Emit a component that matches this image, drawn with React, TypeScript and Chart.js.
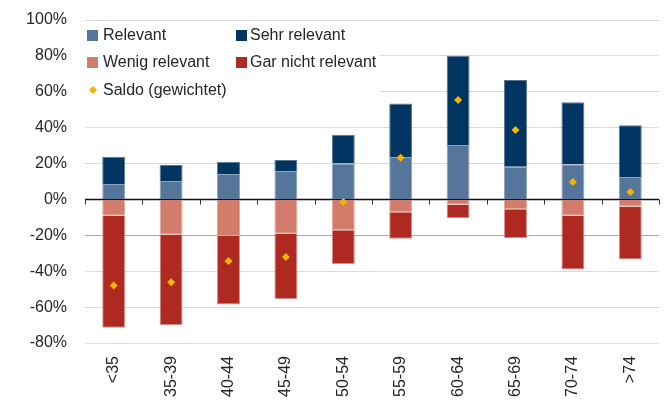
import React, { useEffect, useRef } from "react";
import { Chart, registerables } from "chart.js";

Chart.register(...registerables);

const categories = ["<35", "35-39", "40-44", "45-49", "50-54", "55-59", "60-64", "65-69", "70-74", ">74"];
const relevant = [8.6, 10.3, 14.2, 15.8, 20.1, 23.6, 30.3, 18.2, 19.6, 12.5];
const sehrRelevant = [15.2, 8.9, 6.8, 6.2, 16.0, 29.8, 49.8, 48.4, 34.5, 28.8];
const wenigRelevant = [-9.1, -19.7, -20.4, -19.1, -17.1, -7.2, -2.9, -5.5, -9.1, -4.1];
const garNichtRelevant = [-62.4, -50.3, -38.1, -36.4, -18.9, -14.7, -7.6, -16.0, -29.9, -29.3];
const saldo = [-47.9, -46.2, -34.3, -32.1, -1.4, 23.3, 55.4, 38.7, 9.7, 4.1];
const yTicks = [100, 80, 60, 40, 20, 0, -20, -40, -60, -80];

const FONT = '"Liberation Sans", Arial, Helvetica, sans-serif';
const TEXT = "#262626";

const C_REL = "#56759b";
const C_SEHR = "#003562";
const C_WENIG = "#d27c6b";
const C_GAR = "#ae2a21";
const C_SALDO = "#f5b400";

const legendItems = [
  { label: "Relevant", color: C_REL, type: "box", col: 0, row: 0 },
  { label: "Sehr relevant", color: C_SEHR, type: "box", col: 1, row: 0 },
  { label: "Wenig relevant", color: C_WENIG, type: "box", col: 0, row: 1 },
  { label: "Gar nicht relevant", color: C_GAR, type: "box", col: 1, row: 1 },
  { label: "Saldo (gewichtet)", color: C_SALDO, type: "diamond", col: 0, row: 2 },
];

const customPlugin = {
  id: "custom",
  beforeDatasetsDraw(chart: any) {
    const ctx = chart.ctx;
    const area = chart.chartArea;
    const y = chart.scales.y;
    ctx.save();
    // zero line
    const y0 = Math.round(y.getPixelForValue(0)) + 0.5;
    ctx.strokeStyle = "#111";
    ctx.lineWidth = 1.3;
    ctx.beginPath();
    ctx.moveTo(area.left, y0);
    ctx.lineTo(area.right, y0);
    ctx.stroke();
    // tick marks at category boundaries
    const n = categories.length;
    const w = (area.right - area.left) / n;
    ctx.lineWidth = 1;
    ctx.strokeStyle = "#333";
    for (let i = 0; i <= n; i++) {
      const px = Math.round(area.left + i * w) + 0.5;
      ctx.beginPath();
      ctx.moveTo(px, y0);
      ctx.lineTo(px, y0 + 5);
      ctx.stroke();
    }
    // legend background
    ctx.fillStyle = "#ffffff";
    ctx.fillRect(area.left, 24, 295, 80);
    // legend items
    const colX = [area.left + 2, area.left + 151];
    const rowY = [35, 62, 90];
    ctx.font = `16px ${FONT}`;
    ctx.textBaseline = "middle";
    ctx.textAlign = "left";
    for (const it of legendItems) {
      const lx = colX[it.col];
      const ly = rowY[it.row];
      ctx.fillStyle = it.color;
      if (it.type === "box") {
        ctx.fillRect(lx, ly - 5, 11, 11);
      } else {
        const cx = lx + 6;
        ctx.beginPath();
        ctx.moveTo(cx, ly - 4);
        ctx.lineTo(cx + 4, ly);
        ctx.lineTo(cx, ly + 4);
        ctx.lineTo(cx - 4, ly);
        ctx.closePath();
        ctx.fill();
      }
      ctx.fillStyle = TEXT;
      ctx.fillText(it.label, lx + (it.col === 0 ? 16 : 14), ly + 1);
    }
    ctx.restore();
  },
};

export default function App() {
  const ref = useRef<HTMLCanvasElement | null>(null);
  useEffect(() => {
    if (!ref.current) return;
    const barCommon = {
      type: "bar" as const,
      borderWidth: 1,
      barPercentage: 0.4,
      categoryPercentage: 1,
      order: 1,
      stack: "s",
    };
    const chart = new Chart(ref.current, {
      type: "bar",
      data: {
        labels: categories,
        datasets: [
          { ...barCommon, label: "Relevant", data: relevant, backgroundColor: C_REL, borderColor: "#8fa3bd" },
          { ...barCommon, label: "Sehr relevant", data: sehrRelevant, backgroundColor: C_SEHR, borderColor: "#5a7594" },
          { ...barCommon, label: "Wenig relevant", data: wenigRelevant, backgroundColor: C_WENIG, borderColor: "#e2a99d" },
          { ...barCommon, label: "Gar nicht relevant", data: garNichtRelevant, backgroundColor: C_GAR, borderColor: "#d88d88" },
          {
            type: "line" as const,
            label: "Saldo (gewichtet)",
            data: saldo,
            showLine: false,
            pointStyle: "rectRot",
            pointRadius: 4,
            pointBackgroundColor: C_SALDO,
            pointBorderColor: C_SALDO,
            pointBorderWidth: 0,
            order: 0,
            stack: "saldo",
          } as any,
        ],
      },
      options: {
        animation: false,
        responsive: false,
        layout: { padding: { top: 20, right: 5, left: 0, bottom: 0 } },
        plugins: { legend: { display: false }, tooltip: { enabled: false } },
        scales: {
          x: {
            stacked: true,
            grid: { display: false },
            border: { display: false },
            ticks: {
              autoSkip: false,
              maxRotation: 90,
              minRotation: 90,
              padding: 5,
              color: TEXT,
              font: { family: FONT, size: 16 },
            },
            afterFit: (s: any) => {
              s.height = 58;
              s.paddingLeft = 0;
              s.paddingRight = 0;
            },
          },
          y: {
            stacked: true,
            min: -80,
            max: 100,
            afterBuildTicks: (s: any) => {
              s.ticks = yTicks.map((v) => ({ value: v }));
            },
            grid: {
              drawTicks: false,
              lineWidth: 1,
              color: (c: any) =>
                c.tick && c.tick.value === 0 ? "rgba(0,0,0,0)" : c.tick && c.tick.value === -20 ? "#a8a8a8" : "#d9d9d9",
            },
            border: { display: false },
            ticks: {
              padding: 18,
              color: TEXT,
              font: { family: FONT, size: 16 },
              callback: (v: any) => `${v}%`,
            },
            afterFit: (s: any) => {
              s.width = 85;
              s.paddingTop = 0;
              s.paddingBottom = 0;
            },
          },
        },
      },
      plugins: [customPlugin],
    });
    return () => chart.destroy();
  }, []);
  return (
    <div style={{ position: "absolute", left: 0, top: 0, width: 664, height: 401, background: "#fff" }}>
      <canvas ref={ref} width={664} height={401} style={{ display: "block" }} />
    </div>
  );
}
